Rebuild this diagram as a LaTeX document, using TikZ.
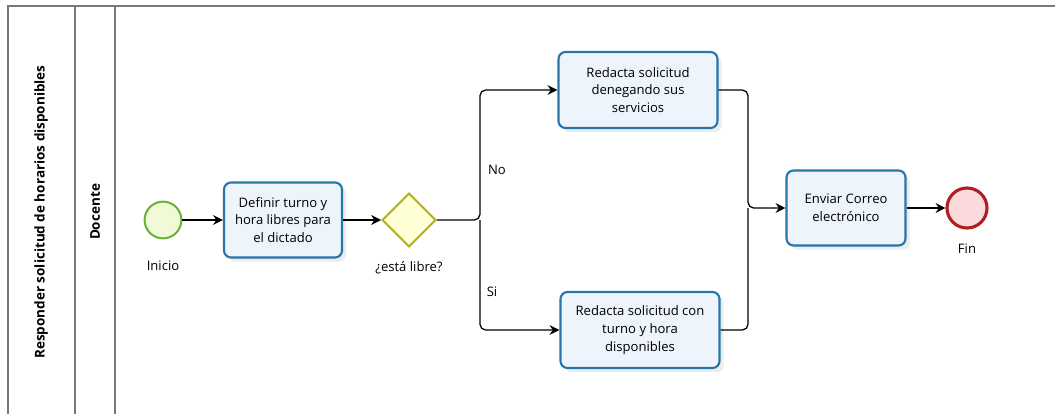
\documentclass[tikz,border=0pt]{standalone}
\usepackage{fontspec}
\setmainfont{Open Sans}
\usetikzlibrary{shapes.geometric,arrows.meta,shadows}
\definecolor{taskline}{RGB}{38,118,168}
\definecolor{taskfill}{RGB}{238,244,252}
\definecolor{startline}{RGB}{104,176,60}
\definecolor{startfill}{RGB}{240,250,214}
\definecolor{gwline}{RGB}{176,176,30}
\definecolor{gwfill}{RGB}{255,255,214}
\definecolor{endline}{RGB}{176,30,36}
\definecolor{endfill}{RGB}{250,218,218}
\definecolor{laneline}{RGB}{120,120,120}
\begin{document}
\begin{tikzpicture}[x=0.025cm,y=-0.025cm,
	font=\fontsize{9.3}{12.6}\selectfont,
	task/.style={draw=taskline, line width=1.5pt, fill=taskfill, rounded corners=5pt, align=center, drop shadow={opacity=0.15, shadow xshift=3pt, shadow yshift=-3pt}},
	startev/.style={circle, draw=startline, line width=1.4pt, fill=startfill, minimum size=0.92cm},
	endev/.style={circle, draw=endline, line width=2.2pt, fill=endfill, minimum size=1cm},
	gateway/.style={diamond, draw=gwline, line width=1.4pt, fill=gwfill, minimum width=1.35cm, minimum height=1.35cm},
	flow/.style={-{Stealth[length=7pt,width=7pt]}, line width=0.9pt, rounded corners=4pt}]
	\useasboundingbox (0,0) rectangle (1055,414);
	% lanes
	\draw [laneline, line width=1.2pt] (8,414) -- (8,6) -- (1055,6);
	\draw [laneline, line width=1pt] (75,6) -- (75,414);
	\draw [laneline, line width=1pt] (115,6) -- (115,414);
	\node [rotate=90, font=\fontsize{9.6}{11}\selectfont\bfseries] (proc) at (41,212) {Responder solicitud de horarios disponibles};
	\node [rotate=90, font=\fontsize{9.6}{11}\selectfont\bfseries] (lane) at (95,212) {Docente};
	% events, tasks, gateway
	\node [startev] (inicio) at (163,220) {};
	\node (inicio-lbl) at (163,266) {Inicio};
	\node [task, minimum width=2.95cm, minimum height=1.875cm] (definir) at (283,220) {Definir turno y\\hora libres para\\el dictado};
	\node [gateway] (libre) at (409,220) {};
	\node (libre-lbl) at (409,268) {¿está libre?};
	\node [task, minimum width=3.975cm, minimum height=1.9cm] (deneg) at (638,90) {Redacta solicitud\\denegando sus\\servicios};
	\node [task, minimum width=3.975cm, minimum height=1.9cm] (turno) at (640,330) {Redacta solicitud con\\turno y hora\\disponibles};
	\node [task, minimum width=2.975cm, minimum height=1.875cm] (correo) at (846,208) {Enviar Correo\\electrónico};
	\node [endev] (fin) at (967,208) {};
	\node (fin-lbl) at (967,249) {Fin};
	\coordinate (split) at (480,220);
	\coordinate (merge) at (748,208);
	% flows
	\draw [flow] (inicio) -- (definir);
	\draw [flow] (definir) -- (libre);
	\draw [flow] (libre.east) -- (split) |- (deneg.west);
	\draw [flow] (split) |- (turno.west);
	\node (no-lbl) at (497,170) {No};
	\node (si-lbl) at (492,292) {Si};
	\draw [flow] (deneg.east) -| (merge) -- (correo.west);
	\draw [line width=0.9pt, rounded corners=4pt] (turno.east) -| (merge);
	\draw [flow] (correo) -- (fin);
\end{tikzpicture}
\end{document}
